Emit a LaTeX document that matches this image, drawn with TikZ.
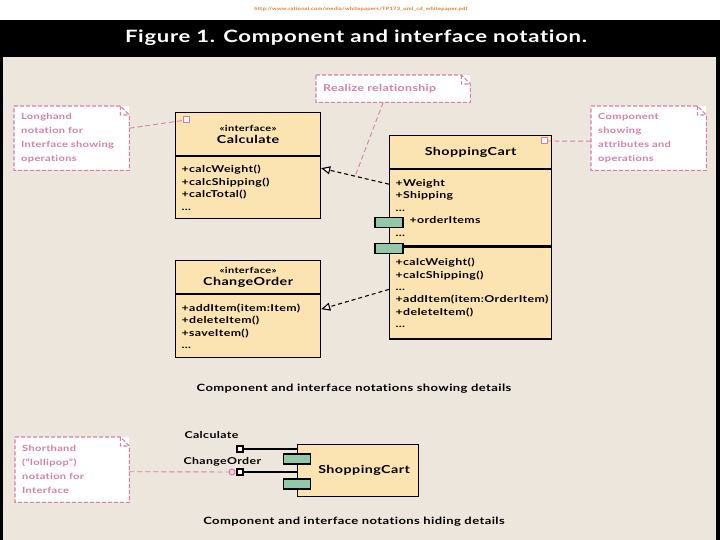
\documentclass[tikz,border=0pt]{standalone}
\usepackage{fontspec}
\setmainfont{Lato}[FakeStretch=1.3,LetterSpace=4,Ligatures=NoCommon]
\usetikzlibrary{arrows.meta,positioning}
\definecolor{pagebg}{HTML}{EDE6DC}
\definecolor{classfill}{HTML}{FCE4B2}
\definecolor{portgreen}{HTML}{92C8A6}
\definecolor{notepink}{HTML}{DA7FA8}
\definecolor{urlorange}{HTML}{E8782A}
\newcommand{\stereo}[1]{{\fontsize{8.5}{10}\selectfont\guillemotleft interface\guillemotright}\\{\fontsize{11}{13}\selectfont #1}}
\begin{document}
\begin{tikzpicture}[x=1pt, y=-1pt, font=\bfseries\fontsize{9.5}{12}\selectfont,
		classhead/.style={draw, line width=1.2pt, fill=classfill, inner xsep=6pt, inner ysep=0pt, align=center},
		classbody/.style={draw, line width=1.2pt, fill=classfill, inner xsep=6pt, inner ysep=0pt, align=left, font=\bfseries\fontsize{9.5}{12.4}\selectfont},
		port/.style={draw, line width=1.2pt, fill=portgreen, minimum width=28pt, minimum height=10pt, inner sep=0pt},
		realize/.style={line width=1.1pt, dash pattern=on 4pt off 3pt, -{Triangle[open, fill=white, length=9pt, width=8pt]}},
		note/.style={fill=white, text=notepink, inner xsep=7pt, inner ysep=0pt, align=left, anchor=north west, font=\bfseries\fontsize{8.5}{14}\selectfont},
		notelink/.style={draw=notepink, line width=0.9pt, dash pattern=on 5pt off 3pt},
		pinksq/.style={draw=notepink, fill=white, line width=1pt, minimum size=6pt, inner sep=0pt},
		lolli/.style={draw, fill=white, line width=1.1pt, minimum size=6pt, inner sep=0pt},
		caption/.style={font=\bfseries\fontsize{10}{12}\selectfont}]
	\useasboundingbox (0,0) rectangle (720,540);
	\fill[white] (0,0) rectangle (720,20);
	\fill[black] (0,20) rectangle (720,540);
	\fill[pagebg] (3,57) rectangle (716,540);
	\node[text=urlorange, font=\bfseries\fontsize{4.5}{5}\selectfont] (url) at (361,9) {http://www.rational.com/media/whitepapers/TP173\_uml\_cd\_whitepaper.pdf};
	\node[text=white, font=\bfseries\fontsize{17}{20}\selectfont] (title) at (356,38) {Figure 1. Component and interface notation.};

	\node[classhead, text width=133pt, minimum height=43pt, anchor=north west] (calcHead) at (175,112) {\stereo{Calculate}};
	\node[classbody, text width=133pt, minimum height=62pt, anchor=north] (calcBody) at (calcHead.south) {+calcWeight()\\+calcShipping()\\+calcTotal()\\...};
	\node[classhead, text width=133pt, minimum height=33pt, anchor=north west] (chgHead) at (175,260) {\stereo{ChangeOrder}};
	\node[classbody, text width=133pt, minimum height=63pt, anchor=north] (chgBody) at (chgHead.south) {+addItem(item:Item)\\+deleteItem()\\+saveItem()\\...};

	\node[classhead, text width=150pt, minimum height=33pt, anchor=north west, font=\bfseries\fontsize{11}{13}\selectfont] (scHead) at (389,135) {ShoppingCart};
	\node[classbody, text width=150pt, minimum height=76pt, anchor=north] (scAttr) at (scHead.south) {+Weight\\+Shipping\\...\\\hspace*{14pt}+orderItems\\...};
	\node[classbody, text width=150pt, minimum height=92pt, anchor=north] (scOps) at (scAttr.south) {+calcWeight()\\+calcShipping()\\...\\+addItem(item:OrderItem)\\+deleteItem()\\...};
	\node[port] (attrPort) at ([yshift=-53pt]scAttr.north west) {};
	\node[port] (opsPort) at ([yshift=-2pt]scOps.north west) {};

	\draw[realize] ([yshift=-15pt]scAttr.north west) -- coordinate[pos=0.5] (realMid) ([yshift=-12pt]calcBody.north east);
	\draw[realize] ([yshift=-43pt]scOps.north west) -- ([yshift=-15pt]chgBody.north east);

	\node[note, text width=101pt, minimum width=115pt, minimum height=64pt] (longNote) at (14,106) {Longhand\\notation for\\Interface showing\\operations};
	\node[note, text width=140pt, minimum width=154pt, minimum height=27pt, font=\bfseries\fontsize{9.5}{12}\selectfont] (realNote) at (316,75) {Realize relationship};
	\node[note, text width=101pt, minimum width=115pt, minimum height=64pt] (compNote) at (591,106) {Component\\showing\\attributes and\\operations};
	\node[note, text width=100pt, minimum width=114pt, minimum height=65pt] (shortNote) at (15,437) {Shorthand\\(“lollipop”)\\notation for\\Interface};
	\foreach \n in {longNote, realNote, compNote, shortNote}
		\draw[draw=notepink, line width=1.1pt, dash pattern=on 4pt off 2pt] (\n.north west) -- ([xshift=-9pt]\n.north east) -- ([yshift=-9pt]\n.north east) -- (\n.south east) -- (\n.south west) -- cycle
			([xshift=-9pt]\n.north east) |- ([yshift=-9pt]\n.north east);

	\node[pinksq] (calcMark) at ([xshift=11pt, yshift=-8pt]calcHead.north west) {};
	\node[pinksq] (compMark) at ([xshift=-8pt, yshift=-6pt]scHead.north east) {};
	\draw[notelink] ([yshift=10pt]longNote.east) -- (calcMark);
	\draw[notelink] ([yshift=-3pt]compNote.west) -- (compMark);
	\draw[notelink] ([xshift=-10pt]realNote.south) -- (realMid);

	\node[caption] (detailCap) at (354,389) {Component and interface notations showing details};

	\node[draw, line width=1.2pt, fill=classfill, minimum width=121pt, minimum height=52pt, anchor=north west, font=\bfseries\fontsize{11}{13}\selectfont] (miniCart) at (297,444) {\hspace*{12pt}ShoppingCart};
	\node[port, minimum width=27pt] (miniPortA) at ([yshift=-15pt]miniCart.north west) {};
	\node[port, minimum width=27pt] (miniPortB) at ([yshift=-40pt]miniCart.north west) {};
	\node[lolli] (calcBall) at (240,449) {};
	\node[lolli] (chgBall) at (240,472) {};
	\draw[line width=1.3pt] (calcBall) -- (calcBall -| miniCart.west);
	\draw[line width=1.3pt] (chgBall) -- (chgBall -| miniCart.west);
	\node[anchor=west] (calcLbl) at (181,435) {Calculate};
	\node[anchor=west] (chgLbl) at (180,462) {ChangeOrder};
	\node[draw=notepink, fill=notepink!40, line width=1pt, circle, minimum size=6pt, inner sep=0pt] (shortMark) at (232,472) {};
	\draw[notelink] ([yshift=-2pt]shortNote.east) -- (shortMark);

	\node[caption] (hideCap) at (354,522) {Component and interface notations hiding details};
\end{tikzpicture}
\end{document}
